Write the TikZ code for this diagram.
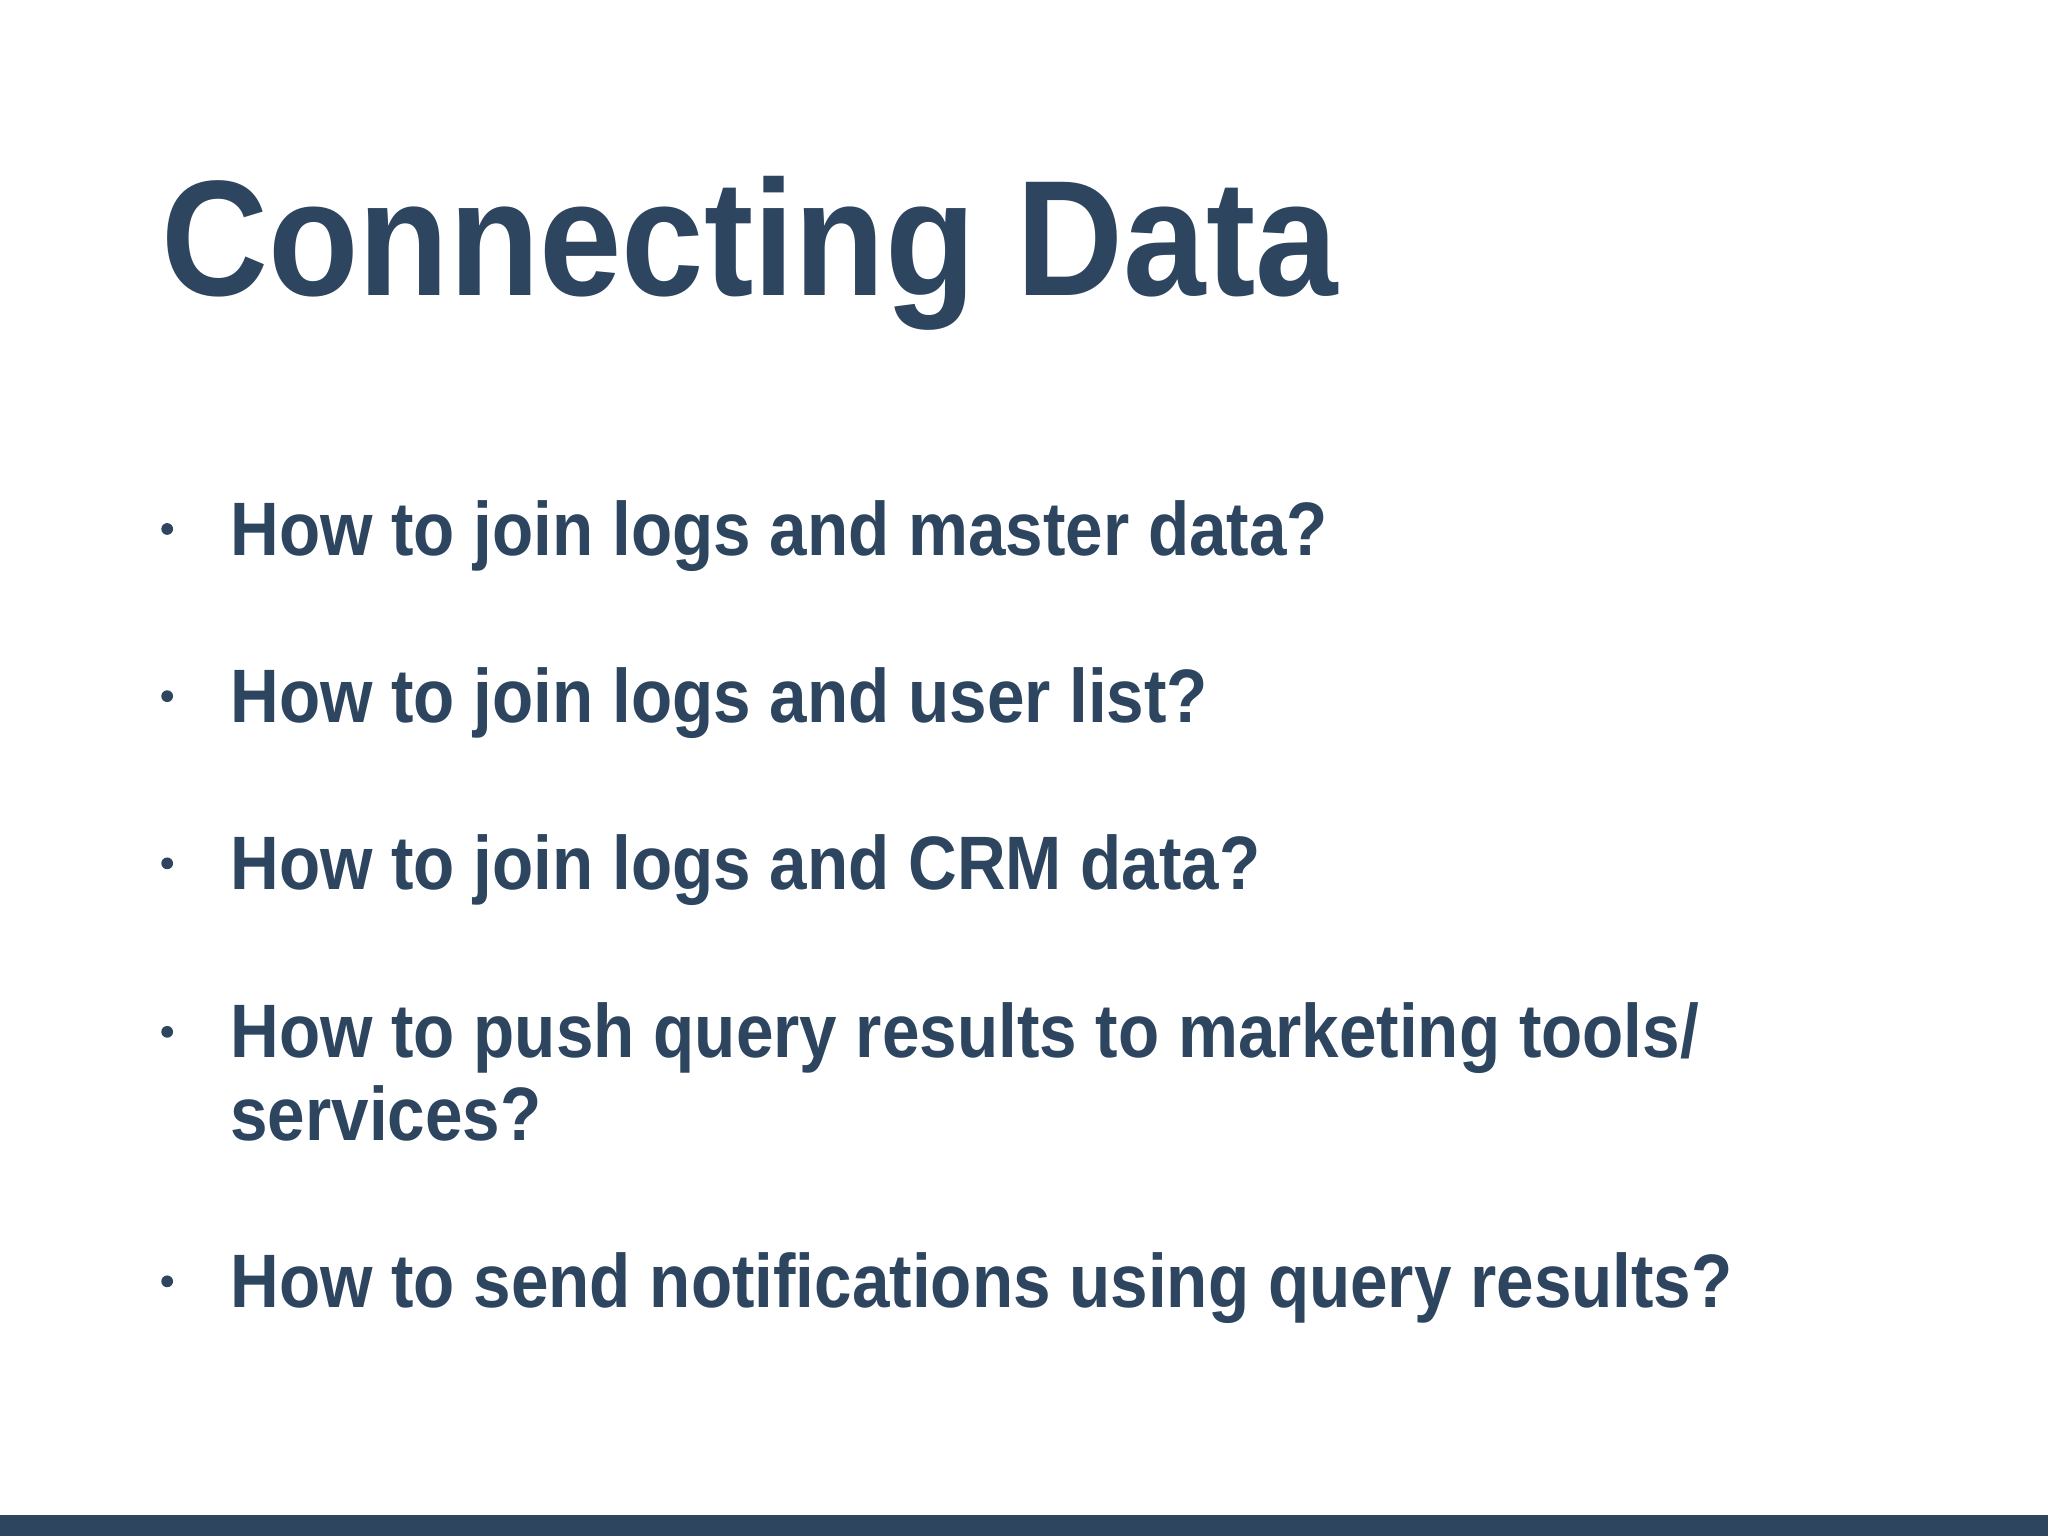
\documentclass[tikz,border=0pt]{standalone}
\usepackage{fontspec}
\setmainfont{Liberation Sans}
\definecolor{ink}{HTML}{2E4560}
\newcommand{\narrow}[1]{\scalebox{0.89}[1]{#1}}
\begin{document}
\begin{tikzpicture}[x=0.5pt,y=-0.5pt,
  item/.style={anchor=base west,inner sep=0pt,text=ink,font=\fontsize{29}{33}\selectfont\bfseries},
  dot/.style={circle,fill=ink,inner sep=0pt,minimum size=4.5pt}]
\fill[white] (0,0) rectangle (1568,1176);
\useasboundingbox (0,0) rectangle (1568,1176);
\fill[ink] (0,1160) rectangle (1568,1176);
\node[anchor=base west,inner sep=0pt,text=ink,font=\fontsize{63}{70}\selectfont\bfseries] (title) at (123,226) {\scalebox{0.9}[1]{Connecting Data}};
\node[item] (b1) at (176,425) {\narrow{How to join logs and master data?}};
\node[item] (b2) at (176,553) {\narrow{How to join logs and user list?}};
\node[item] (b3) at (176,681) {\narrow{How to join logs and CRM data?}};
\node[item] (b4) at (176,810) {\narrow{How to push query results to marketing tools/}};
\node[item] (b4b) at (176,873) {\narrow{services?}};
\node[item] (b5) at (176,1001) {\narrow{How to send notifications using query results?}};
\node[dot] (d1) at (128,405) {};
\node[dot] (d2) at (128,533) {};
\node[dot] (d3) at (128,661) {};
\node[dot] (d4) at (128,790) {};
\node[dot] (d5) at (128,981) {};
\end{tikzpicture}
\end{document}
